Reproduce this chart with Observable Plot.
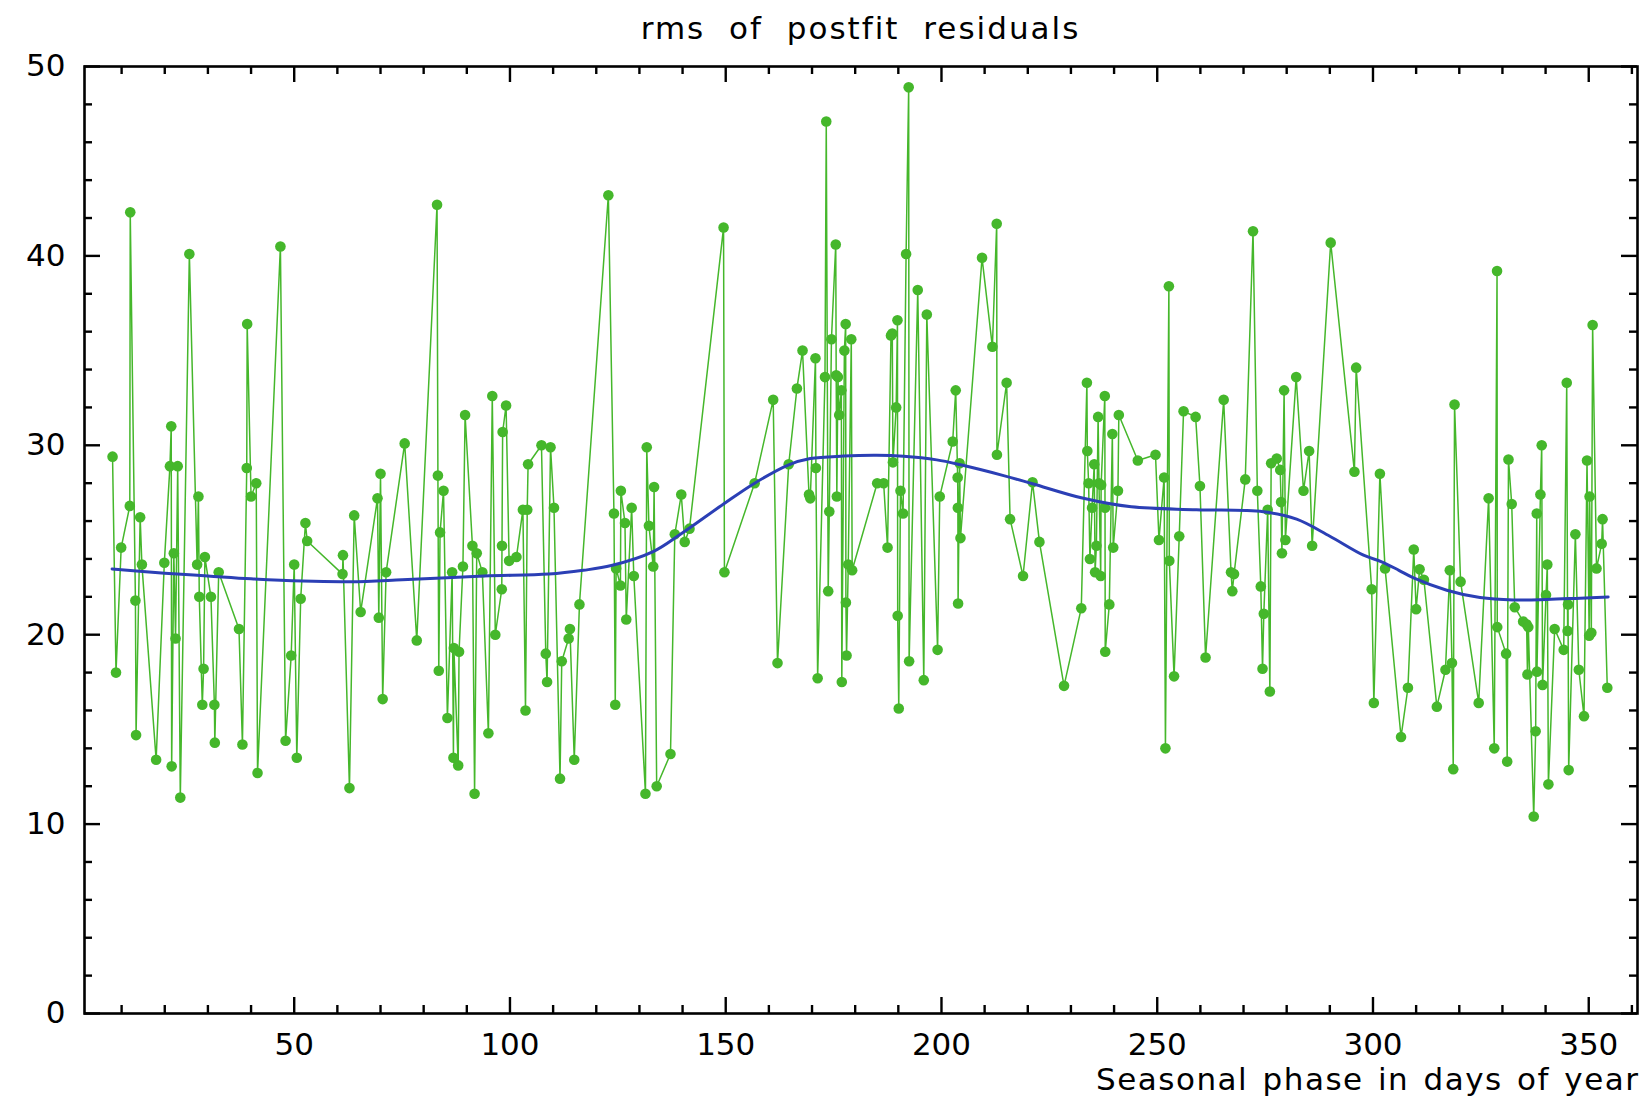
<!DOCTYPE html>
<html><head><meta charset="utf-8">
<script src="https://cdn.jsdelivr.net/npm/d3@7"></script>
<script src="https://cdn.jsdelivr.net/npm/@observablehq/plot@0.6"></script>
<style>
body{margin:0;background:#fff;width:1648px;height:1102px;overflow:hidden;font-family:"DejaVu Sans",sans-serif;position:relative;}
#title{position:absolute;left:84px;width:1553px;top:0;height:56px;line-height:56px;text-align:center;font-size:31px;letter-spacing:2px;word-spacing:12px;color:#000;}
#chart{position:absolute;left:0;top:50px;}
</style></head><body>
<div id="title">rms of postfit residuals</div>
<div id="chart"></div>
<script>
// ---- data ----
const days = [7.9,8.7,9.9,11.9,12.0,13.2,13.35,14.3,14.7,18.0,19.9,21.2,21.5,21.6,22.1,22.5,23.0,23.6,25.7,27.5,27.8,28.0,28.7,29.0,29.3,30.7,31.5,31.6,32.5,37.2,38.0,39.0,39.1,40.0,41.2,41.5,46.8,48.0,49.3,50.0,50.6,51.5,52.6,53.0,61.2,61.3,62.8,63.9,65.4,
69.3,69.6,70.0,70.5,71.3,75.6,78.4,83.1,83.3,83.5,83.8,84.6,85.5,86.6,86.9,87.0,88.0,88.2,89.1,89.6,91.3,91.8,92.3,93.6,95.0,95.9,96.6,98.1,98.15,98.3,99.1,99.8,101.5,103.0,103.6,104.0,104.2,107.3,108.3,108.6,109.4,110.2,111.6,112.0,113.6,113.9,114.9,116.1,122.8,124.1,124.4,124.6,125.6,125.7,126.65,126.95,128.2,128.7,
131.4,131.7,132.2,133.2,133.4,134.0,137.2,138.2,139.7,140.5,141.6,149.5,149.7,156.7,161.0,162.0,164.6,166.5,167.8,169.3,169.6,170.8,170.9,171.3,173.0,173.3,173.75,174.0,174.5,175.5,175.6,175.75,176.0,176.3,176.8,176.9,177.5,177.8,177.85,178.0,178.4,179.1,179.3,185.1,
186.6,187.5,188.3,188.6,188.75,189.5,189.8,189.85,190.1,190.5,191.1,191.8,192.4,192.5,194.5,195.9,196.6,199.1,199.6,202.6,203.3,203.75,203.8,203.85,204.2,204.4,209.4,211.8,212.8,212.85,215.1,215.9,218.9,221.1,222.7,228.4,232.4,233.7,233.8,234.1,234.4,234.9,235.4,235.6,235.9,236.3,236.5,236.9,237.0,237.85,237.9,237.95,238.9,239.6,239.8,240.9,241.1,245.5,
249.6,250.4,251.6,251.9,252.7,252.8,253.9,255.1,256.1,258.9,259.9,261.2,265.4,267.1,267.4,267.8,270.4,272.2,273.2,274.0,274.4,274.7,275.6,276.1,276.4,277.7,278.5,278.7,278.9,279.4,279.7,282.2,283.9,285.2,285.9,290.2,295.7,296.1,299.7,300.2,301.6,302.8,
306.5,308.1,309.45,310.0,310.8,311.8,314.8,316.8,317.8,318.3,318.6,318.9,320.3,324.5,326.8,328.1,328.75,328.8,330.85,331.1,331.4,332.15,332.85,334.8,335.6,335.8,336.0,337.25,337.7,337.95,338.0,338.8,339.1,339.3,340.1,340.4,340.65,342.1,344.2,344.9,345.1,345.2,345.35,346.9,347.7,348.9,349.6,350.1,350.2,350.6,350.9,351.8,353.0,353.2,354.3];
const rms = [29.4,18.0,24.6,26.8,42.3,21.8,14.7,26.2,23.7,13.4,23.8,28.9,31.0,13.05,24.3,19.8,28.9,11.4,40.1,23.7,27.3,22.0,16.3,18.2,24.1,22.0,16.3,14.3,23.3,20.3,14.2,28.8,36.4,27.3,28.0,12.7,40.5,14.4,18.9,23.7,13.5,21.9,25.9,24.95,23.2,24.2,11.9,26.3,21.2,
27.2,20.9,28.5,16.6,23.3,30.1,19.7,42.7,28.4,18.1,25.4,27.6,15.6,23.3,13.5,19.3,13.1,19.1,23.6,31.6,24.7,11.6,24.3,23.3,14.8,32.6,20.0,22.4,24.7,30.7,32.1,23.9,24.1,26.6,16.0,26.6,29.0,30.0,19.0,17.5,29.9,26.7,12.4,18.6,19.8,20.3,13.4,21.6,43.2,26.4,16.3,23.5,22.6,27.6,25.9,20.8,26.7,23.1,
11.6,29.9,25.75,23.6,27.8,12.0,13.7,25.3,27.4,24.9,25.6,41.5,23.3,28.0,32.4,18.5,29.0,33.0,35.0,27.4,27.2,34.6,28.8,17.7,33.6,47.1,22.3,26.5,35.6,40.6,33.7,27.3,33.6,31.6,32.9,17.5,35.0,36.4,21.7,18.9,23.7,35.6,23.4,28.0,
28.0,24.6,35.8,35.9,29.1,32.0,36.6,21.0,16.1,27.6,26.4,40.1,48.9,18.6,38.2,17.6,36.9,19.2,27.3,30.2,32.9,28.3,26.7,21.65,29.05,25.1,39.9,35.2,41.7,29.5,33.3,26.1,23.1,28.05,24.9,17.3,21.4,33.3,29.7,28.0,24.0,26.7,29.0,23.3,24.7,31.5,28.0,23.1,27.9,32.6,26.7,19.1,21.6,30.6,24.6,27.6,31.6,29.2,
29.5,25.0,28.3,14.0,38.4,23.9,17.8,25.2,31.8,31.5,27.85,18.8,32.4,23.3,22.3,23.2,28.2,41.3,27.6,22.55,18.2,21.1,26.6,17.0,29.05,29.3,28.7,27.0,24.3,32.9,25.0,33.6,27.6,29.7,24.7,40.7,28.6,34.1,22.4,16.4,28.5,23.5,
14.6,17.2,24.5,21.35,23.45,22.9,16.2,18.15,23.4,18.5,12.9,32.15,22.8,16.4,27.2,14.0,39.2,20.4,19.0,13.3,29.25,26.9,21.45,20.7,20.55,17.9,20.4,10.4,14.9,26.4,18.05,27.4,30.0,17.35,22.1,23.7,12.1,20.3,19.2,33.3,20.2,21.6,12.85,25.3,18.15,15.7,29.2,19.95,27.3,20.1,36.35,23.5,24.8,26.1,17.2];

const smoothDays = [7.8,20,30,40,52,63,75,94,109,117,123.5,133.3,139.5,149.5,156.7,164.6,169.6,177.3,185,191.2,198.9,204.4,214.4,221.1,232.9,244,259.1,274.6,282.3,290,297.8,302,306,309.4,317.1,324.8,332.5,340.3,348,354.5];
const smoothRms = [23.47,23.25,23.1,22.95,22.83,22.8,22.9,23.1,23.2,23.4,23.65,24.4,25.3,26.9,28.0,28.97,29.3,29.43,29.47,29.42,29.23,28.97,28.4,27.97,27.2,26.75,26.6,26.49,26.1,25.2,24.2,23.85,23.4,23.0,22.35,21.96,21.83,21.86,21.93,21.99];

const xMajor = [50,100,150,200,250,300,350];
const xMinor = [10,20,30,40,60,70,80,90,110,120,130,140,160,170,180,190,210,220,230,240,260,270,280,290,310,320,330,340,360];
const yMajor = [0,10,20,30,40,50];
const yMinor = [2,4,6,8,12,14,16,18,22,24,26,28,32,34,36,38,42,44,46,48];
const xDomain = [1.4, 361.3];
const yDomain = [0, 50];
const xTitle = "Seasonal phase in days of year";

// ---- chart ----
const W = 1648, H = 1052, mL = 84, mR = 11, mT = 16, mB = 89;
const innerH = H - mT - mB, innerW = W - mL - mR;
const green = "#45b72b", blue = "#2b3fb5", ink = "#000";
const tw = 2.4, majorLen = 16, minorLen = 8;

const data = days.map((d, i) => ({day: d, rms: rms[i]}));
const smooth = smoothDays.map((d, i) => ({day: d, rms: smoothRms[i]}));

const plot = Plot.plot({
  width: W, height: H,
  marginLeft: mL, marginRight: mR, marginTop: mT, marginBottom: mB,
  style: {fontFamily: "'DejaVu Sans', sans-serif", fontSize: "31px", color: "#000", background: "#fff", overflow: "visible"},
  x: {domain: xDomain, label: null},
  y: {domain: yDomain, label: null},
  marks: [
    Plot.line(data, {x: "day", y: "rms", stroke: green, strokeWidth: 1.5}),
    Plot.dot(data, {x: "day", y: "rms", r: 5.3, fill: green}),
    Plot.line(smooth, {x: "day", y: "rms", stroke: blue, strokeWidth: 3, curve: "catmull-rom"}),
    Plot.tickX(xMajor, {x: d => d, insetTop: innerH - majorLen, stroke: ink, strokeWidth: tw}),
    Plot.tickX(xMajor, {x: d => d, insetBottom: innerH - majorLen, stroke: ink, strokeWidth: tw}),
    Plot.tickX(xMinor, {x: d => d, insetTop: innerH - minorLen, stroke: ink, strokeWidth: tw}),
    Plot.tickX(xMinor, {x: d => d, insetBottom: innerH - minorLen, stroke: ink, strokeWidth: tw}),
    Plot.tickY(yMajor, {y: d => d, insetRight: innerW - majorLen, stroke: ink, strokeWidth: tw}),
    Plot.tickY(yMajor, {y: d => d, insetLeft: innerW - majorLen, stroke: ink, strokeWidth: tw}),
    Plot.tickY(yMinor, {y: d => d, insetRight: innerW - minorLen, stroke: ink, strokeWidth: tw}),
    Plot.tickY(yMinor, {y: d => d, insetLeft: innerW - minorLen, stroke: ink, strokeWidth: tw}),
    Plot.frame({stroke: ink, strokeWidth: 2.6}),
    Plot.axisX(xMajor, {tickSize: 0, tickPadding: 19, fontSize: 31}),
    Plot.axisY(yMajor, {tickSize: 0, tickPadding: 19, fontSize: 31}),
    Plot.text([xTitle], {frameAnchor: "bottom-right", dy: 76, dx: 2, textAnchor: "end", fontSize: 31})
  ]
});
d3.select(plot).selectAll('g[aria-label="text"] text').attr("letter-spacing", "1.5px").attr("word-spacing", "3px");
document.getElementById("chart").appendChild(plot);
</script>
</body></html>
